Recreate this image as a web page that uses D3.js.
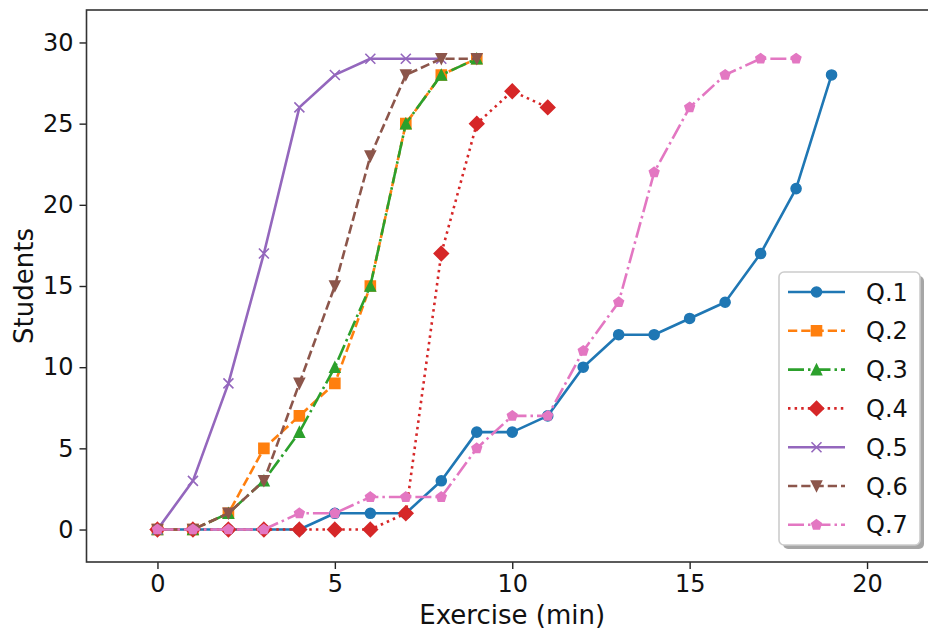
<!DOCTYPE html>
<html>
<head>
<meta charset="utf-8">
<script src="https://cdn.jsdelivr.net/npm/d3@7"></script>
<style>
  html, body { margin: 0; padding: 0; background: #fff; }
  svg { display: block; font-family: "DejaVu Sans", sans-serif; }
</style>
</head>
<body>
<svg id="chart" width="928" height="632"></svg>
<script>
// ---- data ----
const minutes = [0,1,2,3,4,5,6,7,8,9,10,11,12,13,14,15,16,17,18,19];
const seriesNames = ["Q.1","Q.2","Q.3","Q.4","Q.5","Q.6","Q.7"];
const q1 = [0,0,0,0,0,1,1,1,3,6,6,7,10,12,12,13,14,17,21,28];
const q2 = [0,0,1,5,7,9,15,25,28,29];
const q3 = [0,0,1,3,6,10,15,25,28,29];
const q4 = [0,0,0,0,0,0,0,1,17,25,27,26];
const q5 = [0,3,9,17,26,28,29,29,29];
const q6 = [0,0,1,3,9,15,23,28,29,29];
const q7 = [0,0,0,0,1,1,2,2,2,5,7,7,11,14,22,26,28,29,29];
const xTicks = [0,5,10,15,20];
const yTicks = [0,5,10,15,20,25,30];
const xLabel = "Exercise (min)";
const yLabel = "Students";

const colors = ["#1f77b4","#ff7f0e","#2ca02c","#d62728","#9467bd","#8c564b","#e377c2"];
const markers = ["circle","square","triangleUp","diamond","x","triangleDown","pentagon"];
const dashes = [null, "9.25,4", "16,4,2.5,4", "2.5,4.1", null, "9.25,4", "16,4,2.5,4"];
const values = [q1,q2,q3,q4,q5,q6,q7];

// ---- layout ----
const svg = d3.select("#chart");
const L = 86.5, R = 938, T = 10, B = 562;
const x = d3.scaleLinear().domain([-2, 22]).range([L, R]);
const y = d3.scaleLinear().domain([-2, 32]).range([B, T]);
const LW = 2.6, MS = 10, MEW = 1.6;

function markerPath(type, s) {
  const r = s / 2;
  const p = d3.path();
  switch (type) {
    case "circle":
      p.arc(0, 0, r, 0, 2 * Math.PI); p.closePath(); break;
    case "square":
      p.rect(-r, -r, s, s); break;
    case "triangleUp":
      p.moveTo(0, -r); p.lineTo(-r, r); p.lineTo(r, r); p.closePath(); break;
    case "triangleDown":
      p.moveTo(0, r); p.lineTo(-r, -r); p.lineTo(r, -r); p.closePath(); break;
    case "diamond": {
      const d = r * Math.SQRT2;
      p.moveTo(0, -d); p.lineTo(d, 0); p.lineTo(0, d); p.lineTo(-d, 0); p.closePath(); break;
    }
    case "pentagon":
      for (let i = 0; i < 5; i++) {
        const a = -Math.PI / 2 + i * 2 * Math.PI / 5;
        const px = r * Math.cos(a), py = r * Math.sin(a);
        if (i === 0) p.moveTo(px, py); else p.lineTo(px, py);
      }
      p.closePath(); break;
    case "x":
      p.moveTo(-r, -r); p.lineTo(r, r); p.moveTo(-r, r); p.lineTo(r, -r); break;
  }
  return p.toString();
}

function drawMarker(g, type, color, cx, cy) {
  const m = g.append("path")
    .attr("d", markerPath(type, MS))
    .attr("transform", `translate(${cx},${cy})`)
    .attr("stroke", color)
    .attr("stroke-width", MEW);
  if (type === "x") m.attr("fill", "none");
  else m.attr("fill", color).attr("stroke-linejoin", "miter");
}

// clip to plot area
svg.append("defs").append("clipPath").attr("id", "clip")
  .append("rect").attr("x", L).attr("y", T).attr("width", R - L).attr("height", B - T);

const plot = svg.append("g").attr("clip-path", "url(#clip)");
const line = d3.line().x(d => x(d[0])).y(d => y(d[1]));

values.forEach((vals, i) => {
  const pts = vals.map((v, j) => [minutes[j], v]);
  const g = plot.append("g");
  g.append("path")
    .attr("d", line(pts))
    .attr("fill", "none")
    .attr("stroke", colors[i])
    .attr("stroke-width", LW)
    .attr("stroke-linejoin", "round")
    .attr("stroke-linecap", dashes[i] ? "butt" : "round")
    .attr("stroke-dasharray", dashes[i]);
  pts.forEach(p => drawMarker(g, markers[i], colors[i], x(p[0]), y(p[1])));
});

// ---- axes ----
const xAxis = d3.axisBottom(x).tickValues(xTicks).tickSize(7).tickPadding(6).tickFormat(d3.format("d"));
const yAxis = d3.axisLeft(y).tickValues(yTicks).tickSize(7).tickPadding(6).tickFormat(d3.format("d"));

const gx = svg.append("g").attr("transform", `translate(0,${B})`).call(xAxis);
const gy = svg.append("g").attr("transform", `translate(${L},0)`).call(yAxis);
[gx, gy].forEach(g => {
  g.select(".domain").remove();
  g.selectAll(".tick line").attr("stroke", "#222").attr("stroke-width", 1.4);
  g.selectAll(".tick text").attr("fill", "#111").style("font-size", "24px")
    .style("font-family", "'DejaVu Sans', sans-serif");
});

// spines
svg.append("rect")
  .attr("x", L).attr("y", T).attr("width", R - L).attr("height", B - T)
  .attr("fill", "none").attr("stroke", "#333").attr("stroke-width", 1.6);

// axis labels
svg.append("text")
  .attr("x", (L + R) / 2).attr("y", 624)
  .attr("text-anchor", "middle")
  .style("font-size", "26px").attr("fill", "#111")
  .text(xLabel);
svg.append("text")
  .attr("transform", `translate(33,${(T + B) / 2}) rotate(-90)`)
  .attr("text-anchor", "middle")
  .style("font-size", "26px").attr("fill", "#111")
  .text(yLabel);

// ---- legend ----
const lg = svg.append("g");
const lx = 779, ly = 272, lw = 141, lh = 273;
lg.append("rect")
  .attr("x", lx + 4).attr("y", ly + 4).attr("width", lw).attr("height", lh)
  .attr("rx", 5).attr("fill", "#4d4d4d").attr("opacity", 0.5);
lg.append("rect")
  .attr("x", lx).attr("y", ly).attr("width", lw).attr("height", lh)
  .attr("rx", 5).attr("fill", "#fff").attr("stroke", "#cccccc").attr("stroke-width", 1.6);

seriesNames.forEach((name, i) => {
  const cy = 292 + i * 38.8;
  const g = lg.append("g");
  g.append("line")
    .attr("x1", 788).attr("x2", 845).attr("y1", cy).attr("y2", cy)
    .attr("stroke", colors[i]).attr("stroke-width", LW)
    .attr("stroke-dasharray", dashes[i]);
  drawMarker(g, markers[i], colors[i], 816.5, cy);
  g.append("text")
    .attr("x", 866).attr("y", cy).attr("dy", "0.36em")
    .style("font-size", "24px").attr("fill", "#111")
    .text(name);
});
</script>
</body>
</html>
